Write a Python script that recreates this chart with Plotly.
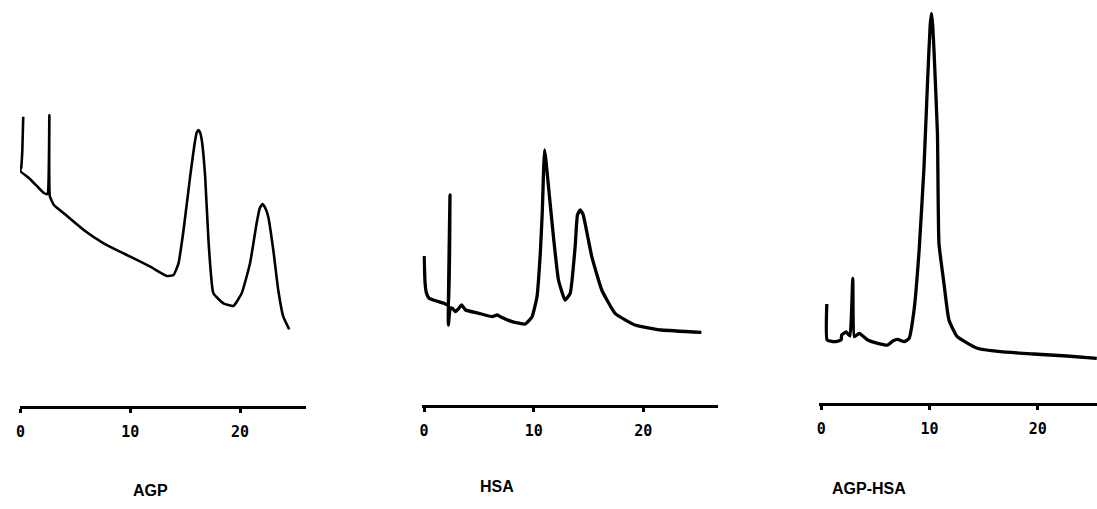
import plotly.graph_objects as go

# Retention time (min) and detector response (arbitrary units) for each run
agp_time = [0.24, 0.16, 0.05, -0.06, 0.75, 1.66, 2.12, 2.44, 2.62, 2.66, 3.03, 3.94,
            5.75, 7.57, 10.0, 11.82, 13.33, 13.94, 14.39, 14.85, 15.45, 15.91, 16.07,
            16.21, 16.34, 16.51, 16.82, 17.12, 17.57, 18.48, 19.39, 20.15, 20.91, 21.51,
            21.8, 22.05, 22.3, 22.57, 23.03, 23.48, 23.94, 24.48]
agp_signal = [289.3, 256, 238, 235.3, 228, 218, 213, 212, 291, 210, 201, 192.7,
              176, 162.7, 149.3, 139.3, 130, 131, 142.7, 176, 229.3, 266, 274,
              276, 274, 266, 229.3, 166, 112.7, 102.7, 100, 112.7, 142.7, 182.7,
              198, 202, 198, 189.3, 156, 116, 89.3, 76.7]

hsa_time = [0.0, 0.09, 0.21, 0.45, 1.05, 1.82, 2.12, 2.21, 2.36, 2.21, 2.39, 2.57,
            2.87, 3.12, 3.42, 3.78, 5.0, 6.21, 6.66, 6.96, 8.03, 9.24, 9.85, 10.3,
            10.6, 10.79, 10.9, 10.99, 11.11, 11.35, 11.8, 12.26, 12.86, 13.33, 13.78,
            13.99, 14.24, 14.49, 14.69, 15.3, 16.21, 17.42, 19.24, 21.66, 25.3]
hsa_signal = [149, 121.7, 112, 106.7, 104.3, 101.7, 100, 100, 210, 80, 97, 96.7,
              93.3, 96, 100, 95, 91.7, 88.3, 90, 88.3, 83.3, 81, 88.3, 108.3,
              151.7, 195, 235, 255, 245, 218.3, 168.3, 125, 105, 111.7, 158.3,
              190, 195, 191, 181.7, 148.3, 115, 91.7, 80, 75, 72.7]

mix_time = [0.52, 0.55, 1.22, 1.84, 1.89, 2.30, 2.48, 2.67, 2.92, 3.06, 3.52, 4.3,
            5.22, 6.14, 6.62, 7.06, 7.67, 8.12, 8.58, 9.05, 9.5, 9.82, 10.07, 10.19,
            10.3, 10.42, 10.74, 10.88, 11.34, 11.8, 12.57, 14.41, 16.56, 19.63, 22.7, 25.46]
mix_signal = [99, 63, 61.3, 63, 68, 71, 69, 67, 124.7, 66.3, 69.7, 63,
              59.7, 58, 62, 63.7, 61.3, 64.7, 93, 153, 236.3, 319.7, 378, 389.7,
              378, 353, 269.7, 159.7, 119.7, 83, 66.3, 54.7, 51.3, 49, 47, 44.7]

panel_names = ["AGP", "HSA", "AGP-HSA"]
time_ticks = [0, 10, 20]

W, H = 1097, 509
fig = go.Figure()

runs = [(agp_time, agp_signal), (hsa_time, hsa_signal), (mix_time, mix_signal)]
widths = [2.6, 3.3, 3.3]
# pixel layout of each panel: x-axis start/end, axis line height, time range
panels = [
    dict(x0=16, x1=303, base=406, rng=[-0.06, 26.0], label=(147, 490)),
    dict(x0=420, x1=717, base=405, rng=[-0.15, 26.85], label=(495, 486)),
    dict(x0=818, x1=1097, base=403, rng=[-0.2, 25.48], label=(868, 488)),
]

for i, ((t, s), p, lw) in enumerate(zip(runs, panels, widths)):
    sfx = "" if i == 0 else str(i + 1)
    fig.add_trace(go.Scatter(x=t, y=s, mode="lines",
                             line=dict(color="black", width=lw, shape="spline", smoothing=0.4),
                             xaxis="x" + sfx, yaxis="y" + sfx,
                             showlegend=False, hoverinfo="skip"))
    fig.layout["xaxis" + sfx] = dict(
        domain=[p["x0"] / W, p["x1"] / W], range=p["rng"], anchor="y" + sfx,
        showline=True, linecolor="black", linewidth=3,
        ticks="outside", ticklen=4, tickwidth=3, tickcolor="black",
        tickvals=time_ticks, ticktext=[str(v) for v in time_ticks],
        tickfont=dict(family="DejaVu Sans Mono", size=15, color="black", weight="bold"),
        ticklabelstandoff=6,
        showgrid=False, zeroline=False, fixedrange=True,
    )
    fig.layout["yaxis" + sfx] = dict(
        domain=[(H - p["base"]) / H, 1], range=[0, p["base"]], anchor="x" + sfx,
        visible=False, showgrid=False, zeroline=False, fixedrange=True,
    )
    lx, ly = p["label"]
    fig.add_annotation(text=panel_names[i], x=lx / W, y=(H - ly) / H,
                       xref="paper", yref="paper", xanchor="center", yanchor="middle",
                       showarrow=False,
                       font=dict(family="Liberation Sans Narrow, Liberation Sans, Arial",
                                 size=16, color="black", weight="bold"))

fig.update_layout(width=W, height=H, margin=dict(l=0, r=0, t=0, b=0),
                  paper_bgcolor="white", plot_bgcolor="white")

fig.write_html("out.html")
